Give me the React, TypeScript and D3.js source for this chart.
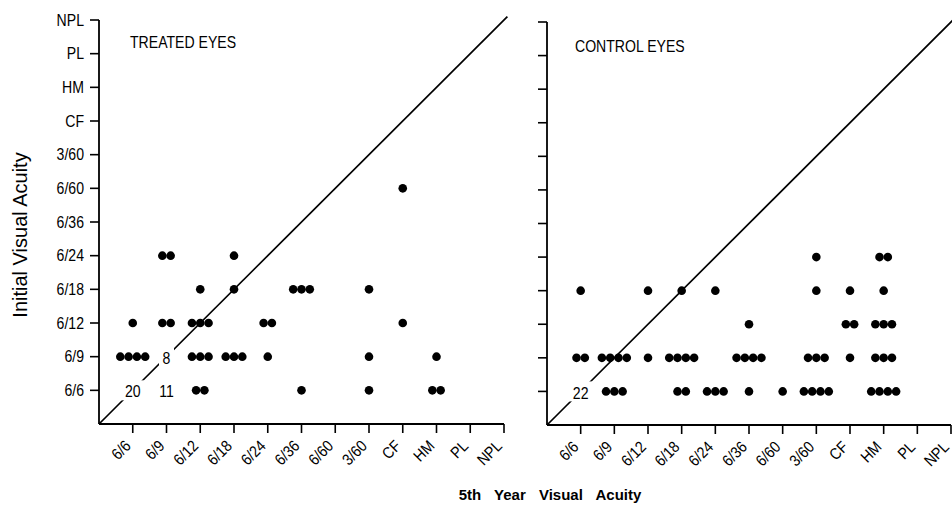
import React from "react";
import * as d3 from "d3";

const acuity = ["6/6", "6/9", "6/12", "6/18", "6/24", "6/36", "6/60", "3/60", "CF", "HM", "PL", "NPL"];

// [5th year acuity, initial acuity, number of eyes]
const treatedPoints: [string, string, number][] = [
  ["6/6", "6/12", 1],
  ["6/6", "6/9", 4],
  ["6/9", "6/24", 2],
  ["6/9", "6/12", 2],
  ["6/12", "6/18", 1],
  ["6/12", "6/12", 3],
  ["6/12", "6/9", 3],
  ["6/12", "6/6", 2],
  ["6/18", "6/24", 1],
  ["6/18", "6/18", 1],
  ["6/18", "6/9", 3],
  ["6/24", "6/12", 2],
  ["6/24", "6/9", 1],
  ["6/36", "6/18", 3],
  ["6/36", "6/6", 1],
  ["3/60", "6/18", 1],
  ["3/60", "6/9", 1],
  ["3/60", "6/6", 1],
  ["CF", "6/60", 1],
  ["CF", "6/12", 1],
  ["HM", "6/9", 1],
  ["HM", "6/6", 2],
];

const treatedCounts: [string, string, string][] = [
  ["6/6", "6/6", "20"],
  ["6/9", "6/9", "8"],
  ["6/9", "6/6", "11"],
];

const controlPoints: [string, string, number][] = [
  ["6/6", "6/18", 1],
  ["6/6", "6/9", 2],
  ["6/9", "6/9", 4],
  ["6/9", "6/6", 3],
  ["6/12", "6/18", 1],
  ["6/12", "6/9", 1],
  ["6/18", "6/18", 1],
  ["6/18", "6/9", 4],
  ["6/18", "6/6", 2],
  ["6/24", "6/18", 1],
  ["6/24", "6/6", 3],
  ["6/36", "6/12", 1],
  ["6/36", "6/9", 4],
  ["6/36", "6/6", 1],
  ["6/60", "6/6", 1],
  ["3/60", "6/24", 1],
  ["3/60", "6/18", 1],
  ["3/60", "6/9", 3],
  ["3/60", "6/6", 4],
  ["CF", "6/18", 1],
  ["CF", "6/12", 2],
  ["CF", "6/9", 1],
  ["HM", "6/24", 2],
  ["HM", "6/18", 1],
  ["HM", "6/12", 3],
  ["HM", "6/9", 3],
  ["HM", "6/6", 4],
];

const controlCounts: [string, string, string][] = [["6/6", "6/6", "22"]];

const FONT = "'Liberation Sans', Arial, sans-serif";
const NARROW = 0.88;
const idx = (l: string) => acuity.indexOf(l) + 1;

type PanelProps = {
  title: string;
  titleX: number;
  titleY: number;
  xr: [number, number];
  yr: [number, number];
  points: [string, string, number][];
  counts: [string, string, string][];
  yLabels: boolean;
  diagEnd: number;
};

function Panel({ title, titleX, titleY, xr, yr, points, counts, yLabels, diagEnd }: PanelProps) {
  const x = d3.scaleLinear().domain([0, 12]).range(xr);
  const y = d3.scaleLinear().domain([0, 12]).range(yr);
  const ticks = acuity.map((l, i) => ({ l, v: i + 1 }));
  const dotGap = 8.3;
  const dots: { cx: number; cy: number; k: string }[] = [];
  points.forEach(([xl, yl, n], j) => {
    for (let k = 0; k < n; k++) {
      dots.push({
        cx: x(idx(xl)) + (k - (n - 1) / 2) * dotGap,
        cy: y(idx(yl)),
        k: `${j}-${k}`,
      });
    }
  });
  return (
    <g>
      <line x1={x(0)} y1={y(0)} x2={x(diagEnd)} y2={y(diagEnd)} stroke="#000" strokeWidth={1.7} />
      <line x1={x(0)} y1={y(0)} x2={x(0)} y2={y(12)} stroke="#000" strokeWidth={1.8} />
      <line x1={x(0)} y1={y(0)} x2={x(12)} y2={y(0)} stroke="#000" strokeWidth={1.8} />
      {ticks.map((t) => (
        <g key={"y" + t.l}>
          <line x1={x(0) - 9} x2={x(0)} y1={y(t.v)} y2={y(t.v)} stroke="#000" strokeWidth={1.6} />
          {yLabels && (
            <text
              transform={`translate(${x(0) - 15},${y(t.v)}) scale(${NARROW},1)`}
              dy="0.36em"
              textAnchor="end"
              fontSize={16}
              fontFamily={FONT}
            >
              {t.l}
            </text>
          )}
        </g>
      ))}
      {ticks.map((t) => (
        <g key={"x" + t.l}>
          <line x1={x(t.v)} x2={x(t.v)} y1={y(0)} y2={y(0) + 9} stroke="#000" strokeWidth={1.6} />
          <text
            transform={`translate(${x(t.v) - 1},${y(0) + 23}) rotate(-45) scale(${NARROW},1)`}
            textAnchor="end"
            fontSize={16}
            fontFamily={FONT}
          >
            {t.l}
          </text>
        </g>
      ))}
      {counts.map(([xl, yl, s]) => (
        <g key={"c" + xl + yl}>
          <rect
            x={x(idx(xl)) - s.length * 4.5 - 3}
            y={y(idx(yl)) - 10}
            width={s.length * 9 + 6}
            height={20}
            fill="#fff"
          />
          <text
            transform={`translate(${x(idx(xl))},${y(idx(yl)) + 1}) scale(${NARROW},1)`}
            dy="0.38em"
            textAnchor="middle"
            fontSize={16}
            fontFamily={FONT}
          >
            {s}
          </text>
        </g>
      ))}
      {dots.map((d) => (
        <circle key={d.k} cx={d.cx} cy={d.cy} r={4.3} fill="#000" />
      ))}
      <text
        transform={`translate(${titleX},${titleY}) scale(${NARROW},1)`}
        fontSize={16}
        fontFamily={FONT}
      >
        {title}
      </text>
    </g>
  );
}

export default function App() {
  return (
    <svg
      width={952}
      height={506}
      style={{ position: "absolute", left: 0, top: 0, background: "#fff" }}
    >
      <rect width={952} height={506} fill="#fff" />
      <Panel
        title="TREATED EYES"
        titleX={130}
        titleY={48}
        xr={[99, 504]}
        yr={[424, 20]}
        points={treatedPoints}
        counts={treatedCounts}
        yLabels={true}
        diagEnd={12.1}
      />
      <Panel
        title="CONTROL EYES"
        titleX={575}
        titleY={52}
        xr={[547, 951]}
        yr={[425, 22]}
        points={controlPoints}
        counts={controlCounts}
        yLabels={false}
        diagEnd={12.1}
      />
      <text
        transform="translate(27,235) rotate(-90)"
        textAnchor="middle"
        fontSize={20}
        fontFamily={FONT}
      >
        Initial Visual Acuity
      </text>
      <text
        x={550}
        y={500}
        textAnchor="middle"
        fontSize={15}
        fontWeight="bold"
        fontFamily={FONT}
        style={{ wordSpacing: "9px" }}
      >
        5th Year Visual Acuity
      </text>
    </svg>
  );
}
